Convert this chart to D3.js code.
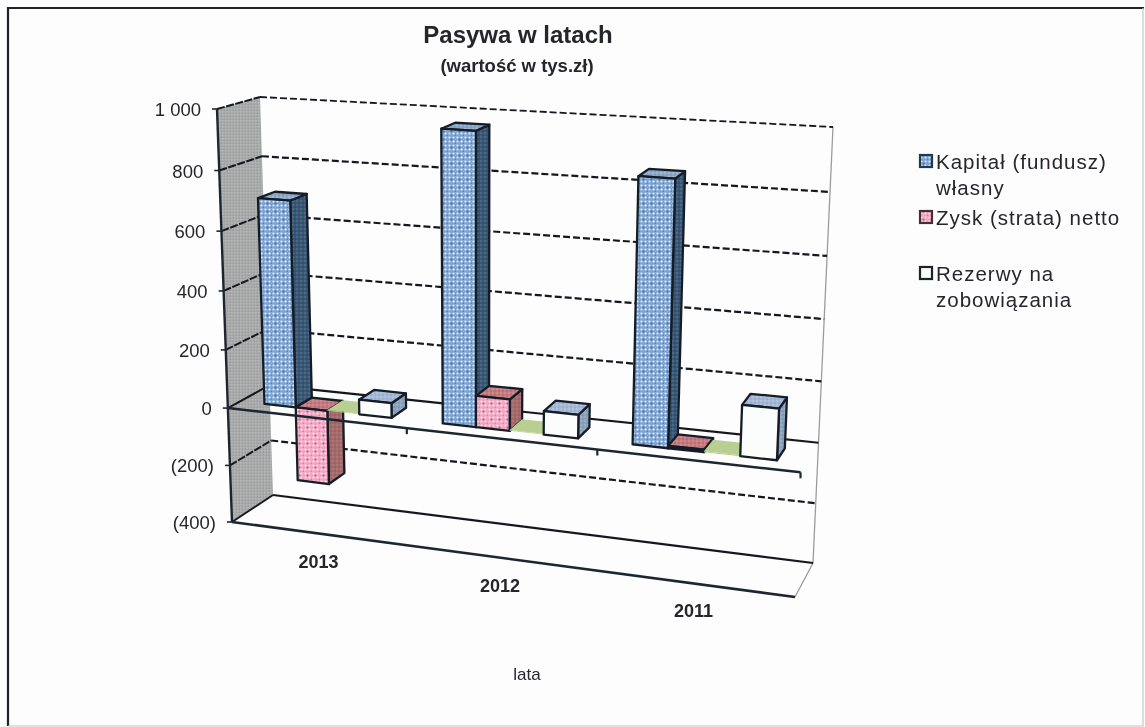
<!DOCTYPE html>
<html>
<head>
<meta charset="utf-8">
<title>Pasywa w latach</title>
<script src="https://cdnjs.cloudflare.com/ajax/libs/d3/7.8.5/d3.min.js"></script>
<style>
html, body { margin: 0; padding: 0; background: #fff; }
svg { display: block; }
text { font-family: "Liberation Sans", Arial, sans-serif; fill: #25272b; }
</style>
</head>
<body>
<div id="chart"></div>
<script>
/*DATA
------------------------------------------------------
*/
const years = ["2013", "2012", "2011"];
const seriesNames = ["kapital", "zysk", "inne", "rezerwy"];
const kapital = [700, 965, 855];
const zysk = [-255, 105, 8];
const inne = [3, 3, 3];
const rezerwy = [50, 78, 165];
const valueTicks = [-400, -200, 0, 200, 400, 600, 800, 1000];
const legendLabels = [["Kapitał (fundusz)", "własny"], ["Zysk (strata) netto"], ["Rezerwy na", "zobowiązania"]];

const seriesValues = {kapital: kapital, zysk: zysk, inne: inne, rezerwy: rezerwy};

/*DIMENSION
------------------------------------------------------
*/
const width = 1145;
const height = 727;

// rogi prostopadloscianu wykresu (przod/tyl, lewo/prawo, dol/gora)
const corners = {
	fbl: [232, 522], fbr: [795, 597], ftl: [217, 109], ftr: [815, 145],
	bbl: [273, 495], bbr: [813, 563], btl: [260, 97], btr: [833, 127]
};

const faces = {
	kapital: {front: "url(#pKapital)", side: "url(#pKapitalSide)", top: "url(#pKapitalTop)"},
	zysk: {front: "url(#pZysk)", side: "url(#pZyskSide)", top: "url(#pZyskTop)"},
	inne: {front: "#b9cf92", side: "#8fa56c", top: "#b9cf92"},
	rezerwy: {front: "#fbfcfc", side: "url(#pRezerwySide)", top: "url(#pRezerwyTop)"}
};

/*SCALES
------------------------------------------------------
*/
const yearScale = d3.scaleBand().domain(years).range([0, 1]);
const seriesScale = d3.scaleBand().domain(seriesNames).range([0, 1]).paddingInner(0).paddingOuter(0.78);
const valueScale = d3.scaleLinear().domain([-400, 1000]).range([0, 1]);
const barDepth = [0.3, 0.71];

// perspektywa
const warp = (t, c) => t / (t + c * (1 - t));
const mix = (a, b, t) => [a[0] + (b[0] - a[0]) * t, a[1] + (b[1] - a[1]) * t];

function project(u, d, value) {
	const x = warp(u, 1.1);
	const t = warp(valueScale(value), 1.05);
	const front = mix(mix(corners.fbl, corners.fbr, x), mix(corners.ftl, corners.ftr, x), t);
	const back = mix(mix(corners.bbl, corners.bbr, x), mix(corners.btl, corners.btr, x), t);
	return mix(front, back, d);
}

const line = d3.line();
const poly = pts => line(pts) + "Z";

/*SVG
------------------------------------------------------
*/
const svg = d3.select("#chart").append("svg").attr("width", width).attr("height", height);
const defs = svg.append("defs");

defs.append("filter").attr("id", "scan")
	.attr("filterUnits", "userSpaceOnUse")
	.attr("x", 0).attr("y", 0).attr("width", width).attr("height", height)
	.append("feGaussianBlur").attr("stdDeviation", 0.5);

defs.append("filter").attr("id", "scanText")
	.attr("filterUnits", "userSpaceOnUse")
	.attr("x", 0).attr("y", 0).attr("width", width).attr("height", height)
	.append("feGaussianBlur").attr("stdDeviation", 0.35);

function dotPattern(id, size, bg, dots) {
	const p = defs.append("pattern").attr("id", id).attr("patternUnits", "userSpaceOnUse")
		.attr("width", size).attr("height", size);
	p.append("rect").attr("width", size).attr("height", size).attr("fill", bg);
	dots.forEach(function(d) {
		p.append("circle").attr("cx", d[0]).attr("cy", d[1]).attr("r", d[2]).attr("fill", d[3]);
	});
}

dotPattern("pKapital", 8, "#7ea3cf", [[1.5, 1.5, 1.1, "#e6eff7"], [5.5, 1.5, 1.1, "#dbe7f3"], [1.5, 5.5, 1.1, "#dbe7f3"], [5.5, 5.5, 1.1, "#e6eff7"], [3.5, 3.5, 1, "#3f72ad"], [7.5, 7.5, 0.8, "#5684bb"]]);
dotPattern("pKapitalSide", 4, "#3a5876", [[1, 1, 0.7, "#6a87a2"], [3, 3, 0.7, "#263e58"]]);
dotPattern("pKapitalTop", 4, "#8fa9c9", [[1, 1, 0.7, "#c4d3e4"], [3, 3, 0.7, "#6f8fb4"]]);
dotPattern("pZysk", 8, "#eea6c0", [[1.5, 1.5, 1.1, "#fae6ee"], [5.5, 1.5, 1.1, "#f7dce6"], [1.5, 5.5, 1.1, "#f7dce6"], [5.5, 5.5, 1.1, "#fae6ee"], [3.5, 3.5, 1, "#d4527f"], [7.5, 7.5, 0.8, "#dc7498"]]);
dotPattern("pZyskSide", 4, "#a46a6c", [[1, 1, 0.7, "#bb8b8b"], [3, 3, 0.7, "#8f5356"]]);
dotPattern("pZyskTop", 4, "#c47b80", [[1, 1, 0.7, "#dba3a6"], [3, 3, 0.7, "#a9585f"]]);
dotPattern("pRezerwySide", 4, "#8ba3bb", [[1, 1, 0.7, "#b1c2d2"], [3, 3, 0.7, "#6f8aa6"]]);
dotPattern("pRezerwyTop", 4, "#a5b8d6", [[1, 1, 0.7, "#c9d5e6"], [3, 3, 0.7, "#8aa0c4"]]);
dotPattern("pWall", 3, "#a9abab", [[0.8, 0.8, 0.6, "#c3c5c5"], [2.2, 2.2, 0.6, "#8f9192"]]);

svg.append("rect").attr("width", width).attr("height", height).attr("fill", "#fdfdfd");

const g = svg.append("g").attr("filter", "url(#scan)");

/*RAMKA
------------------------------------------------------
*/
g.append("path").attr("d", line([[8, 726], [8, 8], [1144, 8]]))
	.attr("fill", "none").attr("stroke", "#202428").attr("stroke-width", 2.2);
g.append("path").attr("d", line([[1143, 8], [1143, 726], [8, 726]]))
	.attr("fill", "none").attr("stroke", "#c4c8c8").attr("stroke-width", 1.2);

/*SCIANY, SIATKA
------------------------------------------------------
*/
const vMin = valueTicks[0];
const vMax = valueTicks[valueTicks.length - 1];

g.append("path")
	.attr("d", poly([project(0, 0, vMin), project(0, 0, vMax), project(0, 1, vMax), project(0, 1, vMin)]))
	.attr("fill", "url(#pWall)");

// prawa krawedz sciany i podlogi
g.append("path").attr("d", line([project(1, 0, vMin), project(1, 1, vMin), project(1, 1, vMax)]))
	.attr("fill", "none").attr("stroke", "#9a9d9e").attr("stroke-width", 1.3);

valueTicks.forEach(function(v) {
	const a = project(0, 0, v), b = project(0, 1, v), c = project(1, 1, v);
	const solid = v === 0 || v === vMin;
	// sciana lewa
	g.append("path").attr("d", line([a, b]))
		.attr("fill", "none").attr("stroke", "#15191d")
		.attr("stroke-width", 2)
		.attr("stroke-dasharray", solid ? null : "8 1.5");
	// sciana tylna
	g.append("path").attr("d", line([b, c]))
		.attr("fill", "none").attr("stroke", "#15191d")
		.attr("stroke-width", v === vMax ? 1.8 : 2.2)
		.attr("stroke-dasharray", solid ? null : "7 3");
	// kreska osi
	g.append("path").attr("d", line([[a[0] - 5, a[1]], a]))
		.attr("stroke", "#22262a").attr("stroke-width", 1.6);
});

// os pionowa i przednia krawedz podlogi
g.append("path").attr("d", line([project(0, 0, vMax), project(0, 0, vMin)]))
	.attr("fill", "none").attr("stroke", "#1d2730").attr("stroke-width", 2.4);
g.append("path").attr("d", line([project(0, 0, vMin), project(1, 0, vMin)]))
	.attr("fill", "none").attr("stroke", "#1d2730").attr("stroke-width", 2.6);

/*SLUPKI
------------------------------------------------------
*/
years.forEach(function(year, i) {
	seriesNames.forEach(function(name) {
		const value = seriesValues[name][i];
		const u0 = yearScale(year) + yearScale.bandwidth() * seriesScale(name);
		const u1 = u0 + yearScale.bandwidth() * seriesScale.bandwidth();
		const hi = Math.max(value, 0);
		const lo = Math.min(value, 0);
		const d0 = barDepth[0];
		const d1 = barDepth[1];
		const bar = g.append("g").attr("class", "bar")
			.attr("stroke", name === "inne" ? "none" : "#141e28")
			.attr("stroke-width", 2.3)
			.attr("stroke-linejoin", "round");
		bar.append("path")
			.attr("d", poly([project(u1, d0, lo), project(u1, d1, lo), project(u1, d1, hi), project(u1, d0, hi)]))
			.attr("fill", faces[name].side);
		bar.append("path")
			.attr("d", poly([project(u0, d0, hi), project(u1, d0, hi), project(u1, d1, hi), project(u0, d1, hi)]))
			.attr("fill", faces[name].top);
		bar.append("path")
			.attr("d", poly([project(u0, d0, lo), project(u1, d0, lo), project(u1, d0, hi), project(u0, d0, hi)]))
			.attr("fill", faces[name].front);
	});
});

// os kategorii przed slupkami
g.append("path").attr("d", line([project(0, 0, 0), project(1, 0, 0)]))
	.attr("fill", "none").attr("stroke", "#1d2730").attr("stroke-width", 2.6);

years.forEach(function(year) {
	const p = project(yearScale(year) + yearScale.bandwidth(), 0, 0);
	g.append("path").attr("d", line([p, [p[0], p[1] + 6]]))
		.attr("stroke", "#1d2730").attr("stroke-width", 2.2);
});

/*TEKSTY
------------------------------------------------------
*/
const fmt = d3.formatLocale({decimal: ",", thousands: " ", grouping: [3], currency: ["", ""]}).format(",d");
const tickLabel = v => v < 0 ? "(" + fmt(-v) + ")" : fmt(v);

const labels = svg.append("g").attr("filter", "url(#scanText)");

valueTicks.forEach(function(v) {
	const a = project(0, 0, v);
	labels.append("text")
		.attr("x", a[0] - 16).attr("y", a[1] + 7)
		.attr("text-anchor", "end").attr("font-size", 18.5)
		.text(tickLabel(v));
});

years.forEach(function(year) {
	const p = project(yearScale(year) + yearScale.bandwidth() / 2, 0, vMin);
	labels.append("text")
		.attr("x", p[0]).attr("y", p[1] + 34)
		.attr("text-anchor", "middle").attr("font-size", 18).attr("font-weight", "bold")
		.text(year);
});

labels.append("text").attr("x", 518).attr("y", 43)
	.attr("text-anchor", "middle").attr("font-size", 24).attr("font-weight", "bold")
	.text("Pasywa w latach");
labels.append("text").attr("x", 517).attr("y", 72)
	.attr("text-anchor", "middle").attr("font-size", 18.5).attr("font-weight", "bold")
	.text("(wartość w tys.zł)");
labels.append("text").attr("x", 527).attr("y", 680)
	.attr("text-anchor", "middle").attr("font-size", 17)
	.text("lata");

/*LEGENDA
------------------------------------------------------
*/
const legendScale = d3.scalePoint().domain(d3.range(legendLabels.length)).range([161, 273]);
const legendFill = ["url(#pKapital)", "url(#pZysk)", "#fbfcfc"];
const legendStroke = ["#24384c", "#4a2f36", "#1d2326"];

legendLabels.forEach(function(lines, i) {
	const y = legendScale(i);
	labels.append("rect")
		.attr("x", 920).attr("y", y - 6).attr("width", 12).attr("height", 12)
		.attr("fill", legendFill[i]).attr("stroke", legendStroke[i]).attr("stroke-width", 2.2);
	const t = labels.append("text").attr("x", 936).attr("y", y + 8)
		.attr("font-size", 20.5).attr("letter-spacing", 1);
	lines.forEach(function(s, k) {
		t.append("tspan").attr("x", 936).attr("dy", k === 0 ? 0 : 26).text(s);
	});
});
</script>
</body>
</html>
